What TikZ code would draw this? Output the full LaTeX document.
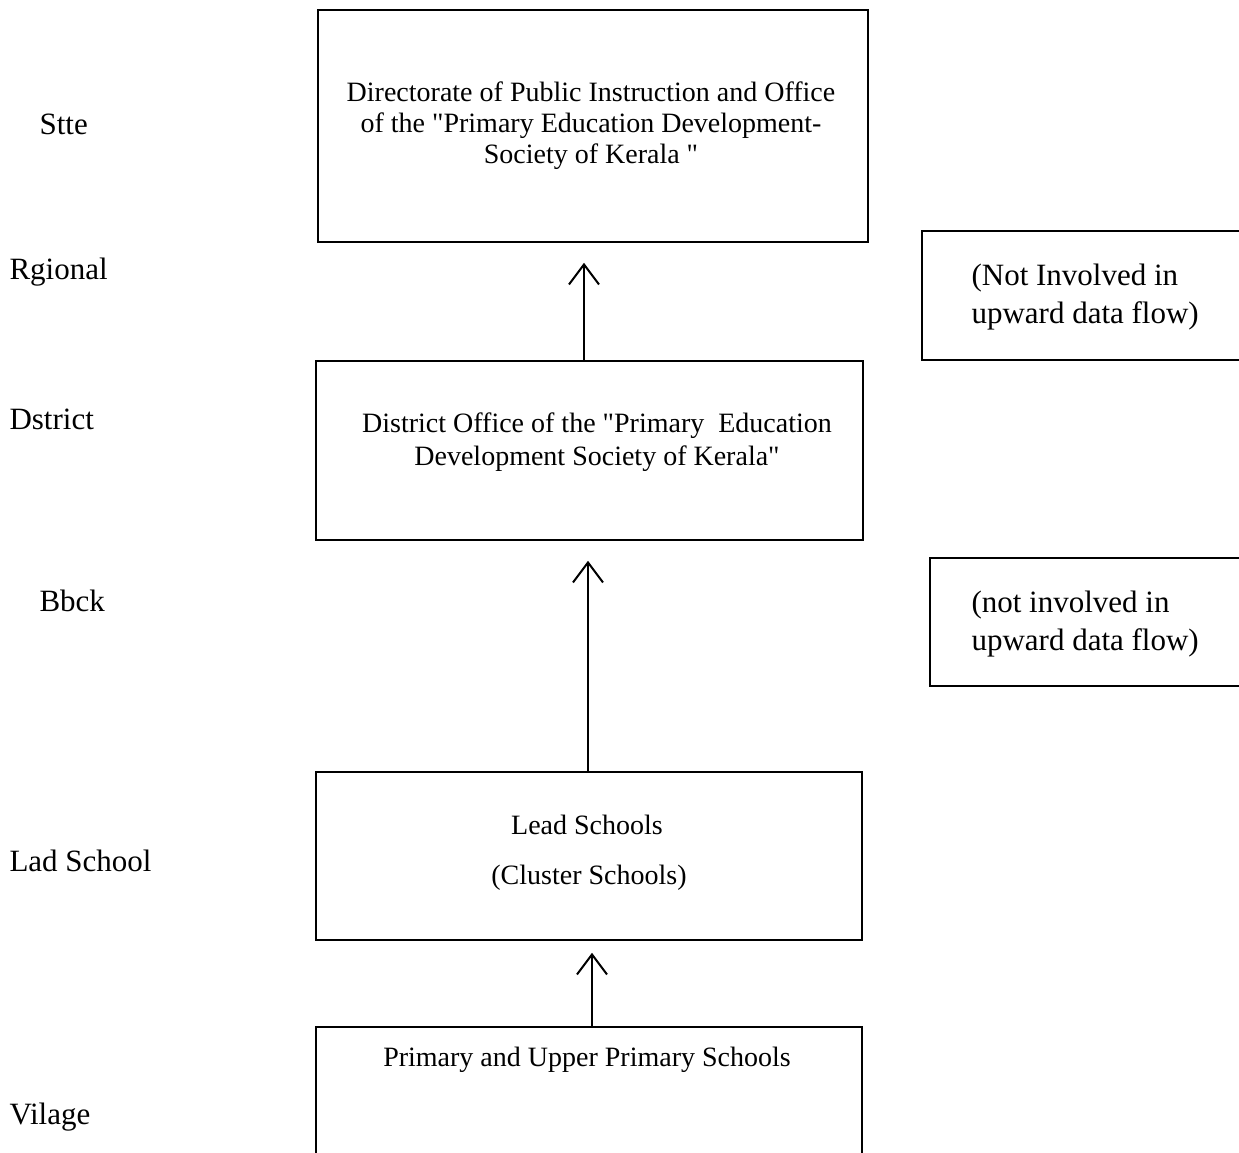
\documentclass[tikz,border=0pt]{standalone}
\usepackage{fontspec}
\setmainfont{Liberation Serif}
\newfontfamily\qfont{Liberation Serif}[Ligatures=TeXOff]
\usetikzlibrary{arrows.meta}
\newcommand{\qq}{{\qfont"}}
\begin{document}
\begin{tikzpicture}[x=1pt,y=-1pt,
  box/.style={draw,line width=1.6pt,rectangle,inner sep=0pt},
  boxtext/.style={align=center,font=\fontsize{28}{31}\selectfont},
  notetext/.style={align=left,anchor=west,font=\fontsize{31}{38}\selectfont},
  lvl/.style={anchor=west,font=\fontsize{31}{34}\selectfont},
  arr/.style={line width=1.8pt,-{Straight Barb[length=20pt,width=30pt,line width=2pt]}}]
\useasboundingbox[fill=white] (0,0) rectangle (1239,1153);
% boxes
\node[box,minimum width=550pt,minimum height=232pt] (top) at (593,126) {};
\node[box,minimum width=547pt,minimum height=179pt] (dist) at (589.5,450.5) {};
\node[box,minimum width=546pt,minimum height=168pt] (lead) at (589,856) {};
\node[box,minimum width=546pt,minimum height=138pt] (vill) at (589,1096) {};
\node[box,minimum width=323pt,minimum height=129pt] (reg) at (1083.5,295.5) {};
\node[box,minimum width=315pt,minimum height=128pt] (blk) at (1087.5,622) {};
% box texts
\node[boxtext] (ttop) at (591,126) {Directorate of Public Instruction and Office\\of the \qq Primary Education Development-\\Society of Kerala \qq};
\node[boxtext] (tdist) at (597,442) {District Office of the \qq Primary\ \ Education\\[2pt]Development Society of Kerala\qq};
\node[boxtext] (tlead1) at (587,825) {Lead Schools};
\node[boxtext] (tlead2) at (589,878) {(Cluster Schools)};
\node[boxtext] (tvill) at (587,1060) {Primary and Upper Primary Schools};
\node[notetext] (treg) at (968,297) {(Not Involved in\\upward data flow)};
\node[notetext] (tblk) at (968,624) {(not involved in\\upward data flow)};
% level labels
\node[lvl] (lstate) at (36,124) {Stte};
\node[lvl] (lreg) at (6,272) {Rgional};
\node[lvl] (ldist) at (6,419) {Dstrict};
\node[lvl] (lblk) at (36,601) {Bbck};
\node[lvl] (llead) at (6,861) {Lad School};
\node[lvl] (lvill) at (6,1117) {Vilage};
% arrows
\draw[arr,shorten >=20pt] ([xshift=-5.5pt]dist.north) -- ([xshift=-5.5pt]dist.north |- top.south);
\draw[arr,shorten >=20pt] ([xshift=-1pt]lead.north) -- ([xshift=-1pt]lead.north |- dist.south);
\draw[arr,shorten >=12pt] ([xshift=3pt]vill.north) -- ([xshift=3pt]vill.north |- lead.south);
\end{tikzpicture}
\end{document}
